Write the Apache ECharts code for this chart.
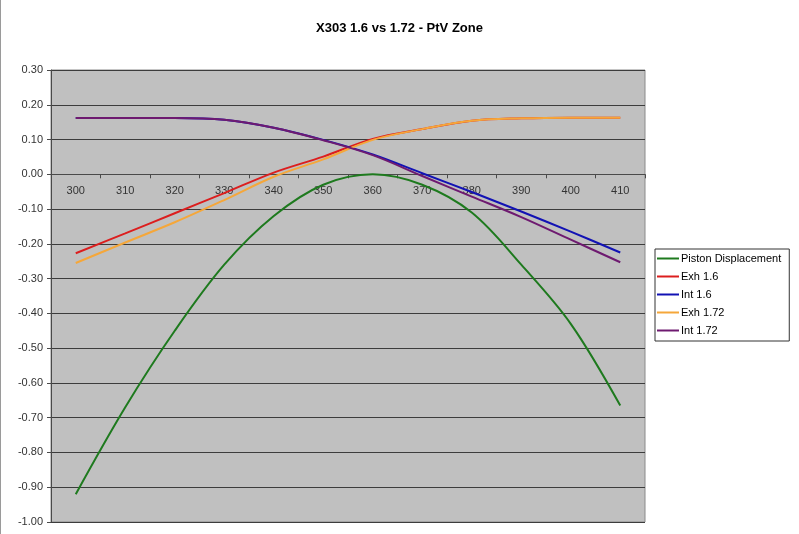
<!DOCTYPE html>
<html>
<head>
<meta charset="utf-8">
<script src="https://cdn.jsdelivr.net/npm/echarts@6/dist/echarts.min.js"></script>
<style>
  html, body { margin: 0; padding: 0; background: #fff; }
  #chart { width: 799px; height: 534px; }
</style>
</head>
<body>
<div id="chart"></div>
<script>
// crank angle categories
const angles = ['300', '310', '320', '330', '340', '350', '360', '370', '380', '390', '400', '410']

const pistonDisplacement = [-0.92, -0.67, -0.45, -0.26, -0.12, -0.03, 0.00, -0.03, -0.11, -0.26, -0.43, -0.665]
const exh16 = [-0.227, -0.17, -0.112, -0.054, 0.005, 0.051, 0.102, 0.13, 0.154, 0.161, 0.163, 0.163]
const int16 = [0.162, 0.162, 0.162, 0.157, 0.134, 0.099, 0.057, 0.003, -0.051, -0.107, -0.165, -0.225]
const exh172 = [-0.255, -0.196, -0.138, -0.074, -0.007, 0.043, 0.099, 0.13, 0.154, 0.161, 0.163, 0.163]
const int172 = [0.162, 0.162, 0.162, 0.157, 0.134, 0.098, 0.055, -0.005, -0.064, -0.123, -0.188, -0.253]

const seriesNames = ['Piston Displacement', 'Exh 1.6', 'Int 1.6', 'Exh 1.72', 'Int 1.72']
const seriesValues = [pistonDisplacement, exh16, int16, exh172, int172]
const seriesColors = ['#1e7a1e', '#dc1e1e', '#1212b4', '#f5a73a', '#6e1a70']

const font = 'Arial, "Liberation Sans", sans-serif'

// plot area
const gridTop = 70
const gridBottom = 12
const plotHeight = 534 - gridTop - gridBottom
const yMin = -1
const yMax = 0.3
// the category axis sits on the zero line, labels included
const zeroOffset = -plotHeight * (0 - yMin) / (yMax - yMin)

const chart = echarts.init(document.getElementById('chart'))

const series = []
seriesNames.forEach((name, i) => {
    series.push({
        name: name,
        type: 'line',
        data: seriesValues[i],
        smooth: 0.35,
        symbol: 'none',
        lineStyle: { width: 2, color: seriesColors[i] },
        itemStyle: { color: seriesColors[i] }
    })
})

const options = {
    animation: false,
    backgroundColor: '#ffffff',
    title: {
        text: 'X303 1.6 vs 1.72 - PtV Zone',
        left: 'center',
        top: 17,
        textStyle: { fontFamily: font, fontSize: 13, fontWeight: 'bold', color: '#000' }
    },
    legend: {
        orient: 'vertical',
        left: 655,
        top: 249,
        icon: 'path://M0,0 H22 V2 H0 Z',
        itemWidth: 22,
        itemHeight: 14,
        itemGap: 7,
        padding: [4, 8, 5, 2],
        borderColor: '#333',
        borderWidth: 1,
        backgroundColor: '#fff',
        textStyle: { fontFamily: font, fontSize: 11, color: '#000', padding: [0, 0, 0, -3] },
        data: seriesNames
    },
    grid: {
        left: 51,
        top: gridTop,
        right: 154,
        bottom: gridBottom,
        show: true,
        backgroundColor: '#c0c0c0',
        borderColor: '#8a8a8a',
        borderWidth: 1
    },
    xAxis: {
        type: 'category',
        data: angles,
        boundaryGap: true,
        position: 'bottom',
        offset: zeroOffset,
        axisLine: { onZero: false, lineStyle: { color: '#4a4a4a', width: 1 } },
        axisTick: { show: true, length: 4, lineStyle: { color: '#4a4a4a' } },
        axisLabel: { fontFamily: font, fontSize: 11, color: '#333', margin: 11 },
        splitLine: { show: false }
    },
    yAxis: {
        type: 'value',
        min: yMin,
        max: yMax,
        interval: 0.1,
        axisLine: { show: true, lineStyle: { color: '#4a4a4a' } },
        axisTick: { show: true, length: 4, lineStyle: { color: '#4a4a4a' } },
        axisLabel: {
            fontFamily: font,
            fontSize: 11,
            color: '#333',
            margin: 8,
            formatter: v => (Math.abs(v) < 1e-9 ? 0 : v).toFixed(2)
        },
        splitLine: { show: true, lineStyle: { color: '#3c3c3c', width: 1 } }
    },
    graphic: [
        {
            type: 'line',
            shape: { x1: 0.5, y1: 0, x2: 0.5, y2: 534 },
            style: { stroke: '#9a9a9a', lineWidth: 1 }
        }
    ],
    series: series
}

chart.setOption(options)
</script>
</body>
</html>
